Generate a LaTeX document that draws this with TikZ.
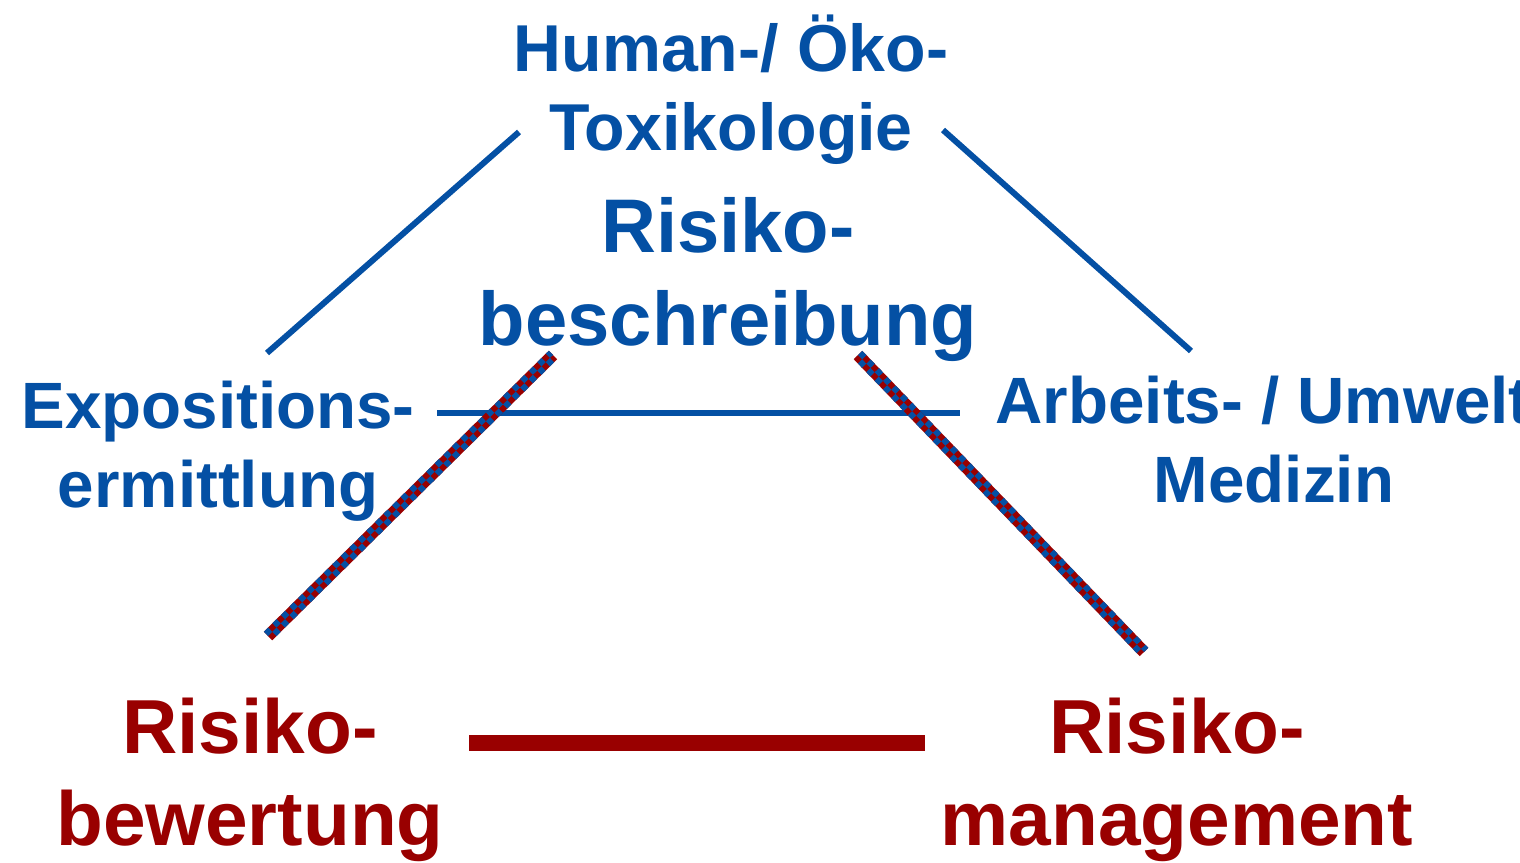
\documentclass[tikz,border=0pt]{standalone}
\usepackage{fontspec}
\setmainfont{Liberation Sans}
\usetikzlibrary{calc}
\definecolor{tblue}{RGB}{4,80,164}
\definecolor{tred}{RGB}{153,0,0}
\tikzset{
  lbl/.style={anchor=base, inner sep=0pt, align=center, font=\bfseries\fontsize{65.5}{79}\selectfont},
  toplbl/.style={anchor=base, inner sep=0pt, align=center, font=\bfseries\fontsize{66.3}{79}\selectfont},
  bigblbl/.style={anchor=base, inner sep=0pt, align=center, font=\bfseries\fontsize{76}{93}\selectfont},
  bigrlbl/.style={anchor=base, inner sep=0pt, align=center, font=\bfseries\fontsize{76.6}{92}\selectfont},
  bluetxt/.style={text=tblue},
  redtxt/.style={text=tred},
  blueline/.style={draw=tblue, line width=6pt},
  redbar/.style={draw=tred, line width=16pt},
  checkbase/.style={draw=tred, line width=12pt},
  checkhalf/.style={draw=tblue, line width=6pt, dash pattern=on 6pt off 6pt},
}
\newcommand{\mycheckline}[2]{%
  \draw[checkbase] (#1) -- (#2);
  \draw[checkhalf] ($(#1)!3pt!90:(#2)$) -- ($(#2)!3pt!-90:(#1)$);
  \draw[checkhalf, dash phase=6pt] ($(#1)!3pt!-90:(#2)$) -- ($(#2)!3pt!90:(#1)$);
}
\begin{document}
\begin{tikzpicture}[x=1pt, y=-1pt]
\useasboundingbox (0,0) rectangle (1520,862);
\clip (0,0) rectangle (1520,862);
% texts (base anchor = baseline of the last line)
\node[toplbl, bluetxt] (tox) at (731,150) {Human-/ Öko-\\Toxikologie};
\node[bigblbl, bluetxt] (rbes) at (728,345) {Risiko-\\beschreibung};
\node[lbl, bluetxt] (expo) at (218,507) {Expositions-\\ermittlung};
\node[lbl, bluetxt] (arb) at (1274,502) {Arbeits- / Umwelt-\\Medizin};
\node[bigrlbl, redtxt] (rbew) at (250,845) {Risiko-\\bewertung};
\node[bigrlbl, redtxt] (rman) at (1177,845) {Risiko-\\management};
% connector end points
\coordinate (l1a) at (267,353);
\coordinate (l1b) at (519,132);
\coordinate (l2a) at (943,130);
\coordinate (l2b) at (1191,351);
\coordinate (h1a) at (437,413);
\coordinate (h1b) at (960,413);
\coordinate (h2a) at (469,743);
\coordinate (h2b) at (925,743);
\coordinate (c1a) at (268,636);
\coordinate (c1b) at (553,355);
\coordinate (c2a) at (858,355);
\coordinate (c2b) at (1144,652);
% connectors
\draw[blueline] (l1a) -- (l1b);
\draw[blueline] (l2a) -- (l2b);
\draw[blueline] (h1a) -- (h1b);
\draw[redbar] (h2a) -- (h2b);
\mycheckline{c1a}{c1b}
\mycheckline{c2a}{c2b}
\end{tikzpicture}
\end{document}
